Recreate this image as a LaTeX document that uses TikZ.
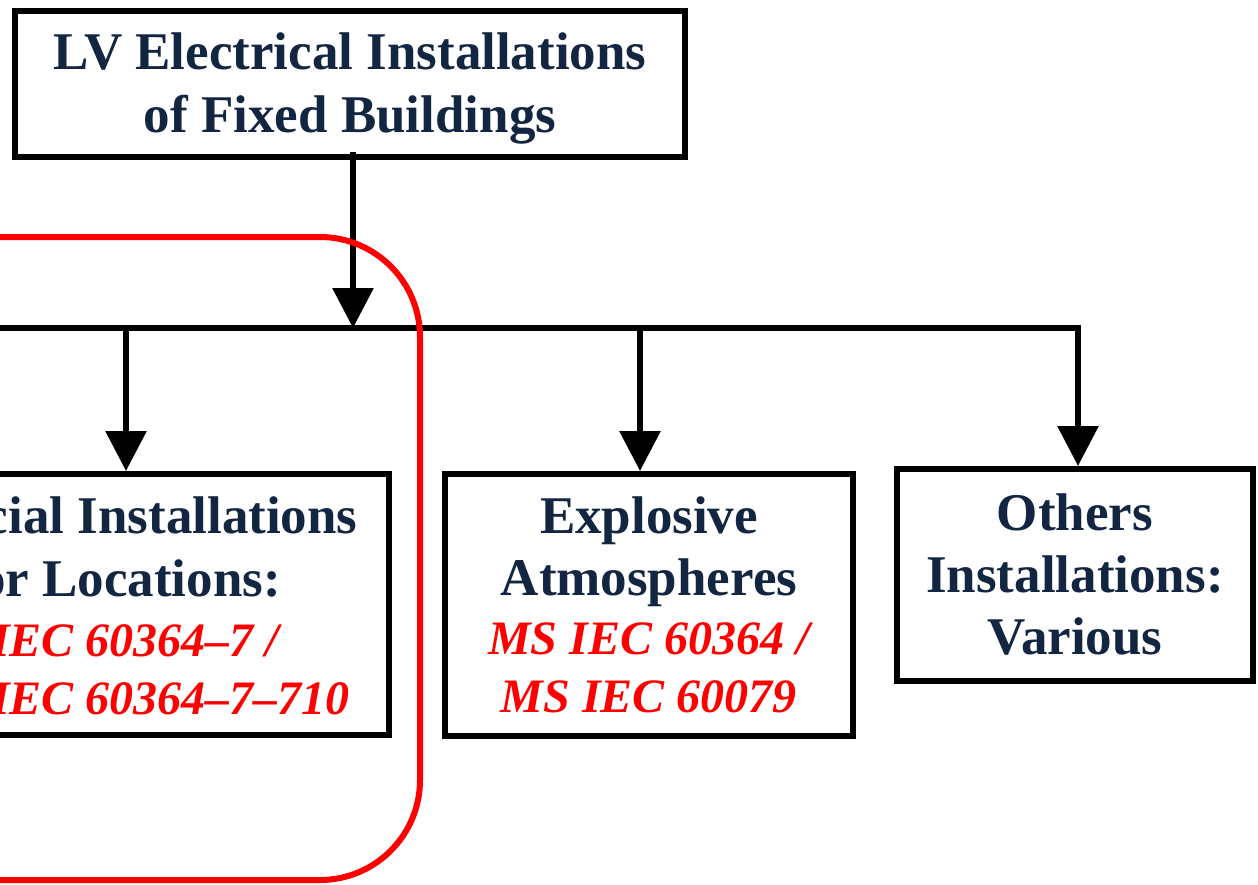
\documentclass[tikz,border=0pt]{standalone}
\usepackage{fontspec}
\setmainfont{Liberation Serif}
\usetikzlibrary{arrows.meta}
\definecolor{navy}{RGB}{18,38,66}
\definecolor{hired}{RGB}{255,0,0}
\newcommand{\stdref}[1]{{\fontsize{48}{58}\selectfont\color{hired}\itshape #1}}
\tikzset{
  box/.style={draw=black, line width=6pt, inner sep=0pt, align=center, text=navy,
    font=\fontsize{53}{62}\selectfont\bfseries},
  boxtext/.style={inner sep=0pt, align=center, text=navy,
    font=\fontsize{53}{63}\selectfont\bfseries},
  conn/.style={line width=6pt, draw=black},
  arr/.style={conn, -{Triangle[length=40pt,width=40pt]}},
  frame/.style={draw=hired, line width=6pt, rounded corners=100pt}
}
\begin{document}
\begin{tikzpicture}[x=1pt,y=-1pt]
\useasboundingbox (0,0) rectangle (1258,884);
\clip (0,0) rectangle (1258,884);
\fill[white] (0,0) rectangle (1258,884);
\node[box, minimum width=670pt, minimum height=146pt] (top) at (350,84) {};
\node[boxtext] (toptext) at (350,88) {LV Electrical Installations\\of Fixed Buildings};
\node[box, minimum width=518pt, minimum height=261pt] (left) at (130,604.5) {};
\node[boxtext] (lefttext) at (130,614)
  {Special Installations\\or Locations:\\[-3pt]
   \stdref{\begin{tabular}[t]{@{}l@{}}MS IEC 60364–7 /\\MS IEC 60364–7–710\end{tabular}}};
\node[box, minimum width=408pt, minimum height=262pt] (mid) at (649,605)
  {Explosive\\Atmospheres\\[-3pt]\stdref{MS IEC 60364 /}\\[-4pt]\stdref{MS IEC 60079}};
\node[box, minimum width=356pt, minimum height=212pt] (right) at (1075,575)
  {Others\\Installations:\\Various};
\coordinate (bus) at (353,328);
\coordinate (busL) at (-10,328);
\coordinate (busR) at (1081,328);
\coordinate (b1) at (126,328);
\coordinate (b2) at (640,328);
\coordinate (b3) at (1078,328);
\coordinate (topout) at (353,152);
\draw[conn] (busL) -- (busR);
\draw[arr] (topout) -- (bus);
\draw[arr] (b1) -- (b1 |- left.north);
\draw[arr] (b2) -- (b2 |- mid.north);
\draw[arr] (b3) -- (b3 |- right.north);
\draw[frame] (-200,237) rectangle (420,880);
\end{tikzpicture}
\end{document}
